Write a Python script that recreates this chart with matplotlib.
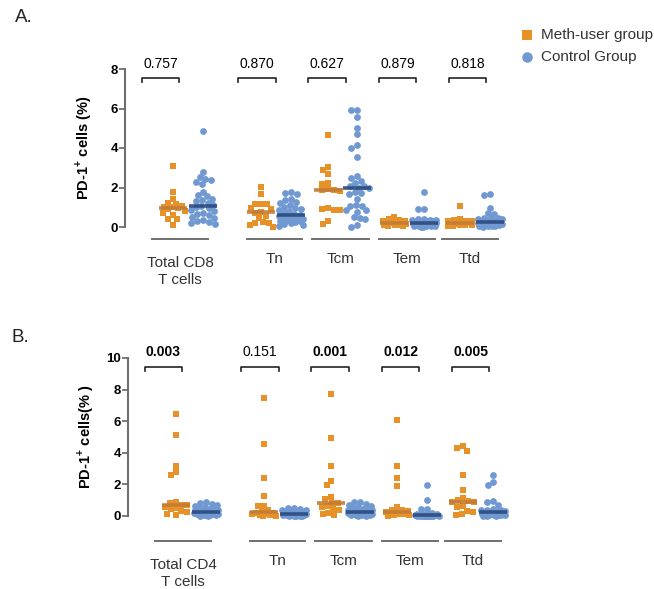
import numpy as np
import matplotlib
matplotlib.use("Agg")
import matplotlib.pyplot as plt

plt.rcParams['font.family'] = ['Liberation Sans', 'DejaVu Sans']
plt.rcParams['mathtext.fontset'] = 'custom'
plt.rcParams['mathtext.rm'] = 'Liberation Sans'
plt.rcParams['mathtext.bf'] = 'Liberation Sans:bold'

# ---------------- data ----------------
cats_a = ["Total CD8\nT cells", "Tn", "Tcm", "Tem", "Ttd"]
cats_b = ["Total CD4\nT cells", "Tn", "Tcm", "Tem", "Ttd"]
pvals_a = ["0.757", "0.870", "0.627", "0.879", "0.818"]
pvals_b = ["0.003", "0.151", "0.001", "0.012", "0.005"]
bold_b = [True, False, True, True, True]

meth_a = [
    [3.1, 1.78, 1.4, 1.2, 1.15, 1.05, 1.02, 1.0, 0.95, 0.8, 0.72, 0.62, 0.42, 0.38, 0.12, 0.9],
    [2.04, 1.68, 1.18, 1.16, 1.15, 0.95, 0.92, 0.75, 0.72, 0.56, 0.47, 0.24, 0.22, 0.2, 0.1, 0.02],
    [4.67, 3.05, 2.89, 2.7, 2.24, 2.18, 1.92, 1.86, 1.85, 1.8, 0.98, 0.9, 0.88, 0.86, 0.32, 0.15],
    [0.52, 0.38, 0.35, 0.3, 0.28, 0.25, 0.22, 0.2, 0.2, 0.18, 0.15, 0.12, 0.1, 0.08, 0.05, 0.03],
    [1.08, 0.38, 0.35, 0.32, 0.3, 0.28, 0.25, 0.24, 0.2, 0.18, 0.15, 0.12, 0.1, 0.08, 0.05, 0.03],
]
ctrl_a = [
    [4.88, 2.8, 2.55, 2.42, 2.38, 2.3, 2.18, 1.78, 1.62, 1.55, 1.4, 1.35, 1.3, 1.2, 1.1,
     1.05, 1.0, 0.95, 0.85, 0.8, 0.7, 0.65, 0.6, 0.5, 0.45, 0.35, 0.3, 0.25, 0.2, 0.15],
    [1.75, 1.7, 1.65, 1.4, 1.35, 1.25, 1.2, 1.1, 1.0, 0.95, 0.9, 0.85, 0.8, 0.7, 0.65,
     0.6, 0.55, 0.55, 0.5, 0.45, 0.42, 0.4, 0.35, 0.3, 0.28, 0.25, 0.2, 0.15, 0.1, 0.05],
    [5.92, 5.9, 5.55, 5.03, 4.69, 4.13, 4.02, 3.56, 2.58, 2.46, 2.34, 2.21, 2.1, 2.08, 2.0,
     1.95, 1.75, 1.72, 1.67, 1.42, 1.12, 1.08, 1.05, 0.86, 0.85, 0.75, 0.5, 0.45, 0.38, 0.1, 0.02],
    [1.79, 0.92, 0.9, 0.4, 0.38, 0.36, 0.35, 0.33, 0.32, 0.3, 0.28, 0.25, 0.22, 0.2, 0.18,
     0.18, 0.16, 0.15, 0.14, 0.12, 0.1, 0.1, 0.08, 0.07, 0.06, 0.05, 0.04, 0.03, 0.02, 0.01],
    [1.67, 1.6, 0.98, 0.7, 0.68, 0.47, 0.45, 0.44, 0.4, 0.38, 0.35, 0.32, 0.3, 0.28, 0.25,
     0.22, 0.2, 0.2, 0.18, 0.16, 0.15, 0.13, 0.12, 0.1, 0.08, 0.07, 0.05, 0.04, 0.03, 0.02],
]
meth_b = [
    [6.43, 5.15, 3.18, 2.8, 2.61, 0.9, 0.8, 0.7, 0.68, 0.6, 0.5, 0.45, 0.3, 0.25, 0.15, 0.05],
    [7.49, 4.58, 2.38, 1.28, 0.65, 0.62, 0.35, 0.25, 0.2, 0.18, 0.15, 0.1, 0.08, 0.05, 0.03, 0.01],
    [7.74, 4.94, 3.18, 2.24, 1.98, 1.22, 1.1, 0.85, 0.8, 0.62, 0.58, 0.45, 0.4, 0.2, 0.1, 0.05],
    [6.1, 3.18, 2.4, 1.92, 0.59, 0.4, 0.35, 0.3, 0.25, 0.22, 0.2, 0.15, 0.1, 0.08, 0.05, 0.02],
    [4.43, 4.3, 4.13, 2.61, 1.67, 1.16, 1.0, 0.92, 0.9, 0.88, 0.62, 0.58, 0.32, 0.28, 0.1, 0.05],
]
ctrl_b = [
    [0.9, 0.8, 0.75, 0.7, 0.65, 0.55, 0.5, 0.45, 0.42, 0.4, 0.38, 0.35, 0.32, 0.3, 0.28,
     0.25, 0.22, 0.2, 0.2, 0.18, 0.16, 0.15, 0.12, 0.1, 0.08, 0.06, 0.05, 0.04, 0.02, 0.01],
    [0.52, 0.5, 0.45, 0.4, 0.35, 0.3, 0.28, 0.25, 0.22, 0.2, 0.18, 0.16, 0.15, 0.14, 0.12,
     0.11, 0.1, 0.1, 0.09, 0.08, 0.07, 0.06, 0.05, 0.05, 0.04, 0.03, 0.02, 0.02, 0.01, 0.01],
    [0.9, 0.88, 0.75, 0.72, 0.65, 0.55, 0.5, 0.45, 0.42, 0.4, 0.38, 0.35, 0.32, 0.3, 0.28,
     0.25, 0.22, 0.2, 0.2, 0.18, 0.16, 0.15, 0.12, 0.1, 0.08, 0.06, 0.05, 0.04, 0.02, 0.01],
    [1.96, 0.99, 0.45, 0.43, 0.2, 0.15, 0.12, 0.1, 0.09, 0.08, 0.07, 0.06, 0.06, 0.05, 0.05,
     0.04, 0.04, 0.03, 0.03, 0.02, 0.02, 0.02, 0.01, 0.01, 0.01, 0.0, 0.0, 0.0, 0.0, 0.0],
    [2.59, 2.15, 1.96, 0.92, 0.9, 0.68, 0.45, 0.4, 0.38, 0.35, 0.32, 0.3, 0.28, 0.25, 0.25,
     0.22, 0.2, 0.18, 0.16, 0.15, 0.12, 0.1, 0.09, 0.08, 0.06, 0.05, 0.04, 0.03, 0.02, 0.01],
]

# ---------------- layout (pixels, relative to y axis) ----------------
W, H = 654, 589
meth_x = [48, 136, 203, 269, 335]
ctrl_x = [78, 166, 232, 299, 365]
brackets = [(17, 54), (113, 151), (183, 221), (254, 291), (324, 361)]
underlines = [(27, 83), (122, 177), (187, 244), (254, 310), (317, 373)]

ORANGE = "#E69229"
BLUE = "#7199D1"
ORANGE_MED = "#C27B38"
BLUE_MED = "#2B4A7E"
GRAY = "#6f6f6f"


def swarm(values, scale, d=6.0, half_width=12.0):
    """beeswarm offsets (pixels); when the row is full, points overlap inside half_width"""
    ys = np.asarray(values) * scale
    xs = np.zeros(len(ys))
    placed = []
    grid = np.linspace(-half_width, half_width, 49)
    for i in np.argsort(ys)[::-1]:
        y = ys[i]
        cands = [0.0]
        for px, py in placed:
            dy = abs(py - y)
            if dy < d:
                dx = np.sqrt(d * d - dy * dy)
                cands += [px - dx, px + dx]
        cands = [c for c in cands if abs(c) <= half_width]
        cands.sort(key=abs)
        best = None
        for c in cands:
            if all((c - px) ** 2 + (y - py) ** 2 >= d * d - 1e-6 for px, py in placed):
                best = c
                break
        if best is None:
            # least crowded spot inside the band
            P = np.array(placed)
            dist = np.min((grid[:, None] - P[:, 0]) ** 2 + (y - P[:, 1]) ** 2, axis=1)
            best = grid[np.argmax(dist - 0.02 * grid ** 2)]
        xs[i] = best
        placed.append((best, y))
    return xs


def panel(axis_x, zero_y, scale, top_tick, top_px, bot_px, meth, ctrl, cats, pvals, bolds, ylabel):
    ax = fig.add_axes([axis_x / W, 1 - bot_px / H, (W - 10 - axis_x) / W, (bot_px - top_px) / H])
    ax.set_xlim(0, W - 10 - axis_x)
    ax.set_ylim(-(bot_px - zero_y) / scale, (zero_y - top_px) / scale)
    for s in ["top", "right", "bottom"]:
        ax.spines[s].set_visible(False)
    ax.spines["left"].set_bounds(0, top_tick)
    ax.spines["left"].set_color(GRAY)
    ax.spines["left"].set_linewidth(1.5)
    ax.set_xticks([])
    ax.set_yticks(np.arange(0, top_tick + 1, 2))
    ax.tick_params(axis="y", length=4, width=1.3, color=GRAY, labelsize=9.5, pad=1)
    for t in ax.get_yticklabels():
        t.set_fontweight("bold")
    ax.patch.set_alpha(0)

    sc_m = sc_c = None
    for k in range(len(cats)):
        for vals, cx, mk, col, mcol, sz in [(meth[k], meth_x[k], "s", ORANGE, ORANGE_MED, 19),
                                           (ctrl[k], ctrl_x[k], "o", BLUE, BLUE_MED, 24)]:
            off = swarm(vals, scale)
            sc = ax.scatter(cx + off, vals, marker=mk, s=sz, color=col, linewidths=0, zorder=3)
            med = np.median(vals)
            ax.plot([cx - 14, cx + 14], [med, med], color=mcol, lw=2.6, alpha=0.9,
                    solid_capstyle="butt", zorder=4)
            if mk == "s":
                sc_m = sc
            else:
                sc_c = sc
        # bracket + p value
        b0, b1 = brackets[k]
        yb = 149 / scale
        ax.plot([b0, b0, b1, b1], [yb - 3.5 / scale, yb, yb, yb - 3.5 / scale],
                color="#222222", lw=1.2, clip_on=False)
        ax.text((b0 + b1) / 2, 163.5 / scale, pvals[k], ha="center", va="center",
                fontsize=10, fontweight="bold" if bolds[k] else "normal", color="black")
        # underline + category
        u0, u1 = underlines[k]
        yu = -(12 if top_tick == 8 else 25) / scale
        ax.plot([u0, u1], [yu, yu], color=GRAY, lw=1.4, clip_on=False)
        gap = 17 if "\n" in cats[k] else 13
        ax.text((u0 + u1) / 2, yu - gap / scale, cats[k], ha="center", va="top",
                fontsize=11, color="#333333", linespacing=1.3)
    ax.text(-42, top_tick / 2, ylabel, rotation=90, ha="center", va="center",
            fontsize=10.5, fontweight="bold")
    return ax, sc_m, sc_c


fig = plt.figure(figsize=(W / 100, H / 100), dpi=100)

ax_a, h_m, h_c = panel(125, 227, 19.75, 8, 35, 300, meth_a, ctrl_a, cats_a, pvals_a,
                       [False] * 5, r"PD-1$^{\mathbf{+}}$ cells (%)")
ax_b, _, _ = panel(128, 516, 15.8, 10, 325, 589, meth_b, ctrl_b, cats_b, pvals_b,
                   bold_b, r"PD-1$^{\mathbf{+}}$ cells(% )")

fig.text(24 / W, 1 - 17 / H, "A.", fontsize=13.5, ha="center", va="center", color="#222222")
fig.text(20 / W, 1 - 338 / H, "B.", fontsize=13.5, ha="center", va="center", color="#222222")

fig.legend([h_m, h_c], ["Meth-user group", "Control Group"], loc="upper left",
           bbox_to_anchor=(522 / W, 1 - 28 / H), frameon=False, fontsize=11,
           markerscale=1.55, handlelength=0.7, handletextpad=0.55, labelspacing=0.5,
           borderpad=0, borderaxespad=0, labelcolor="#333333")

fig.savefig("out.png", dpi=100)
